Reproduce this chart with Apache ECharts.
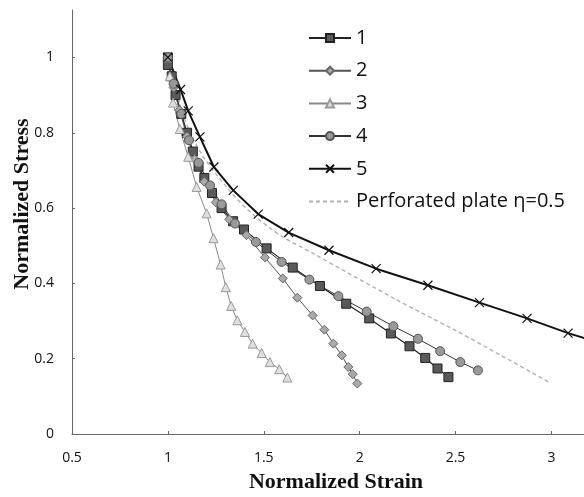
<!DOCTYPE html>
<html>
<head>
<meta charset="utf-8">
<script src="https://cdn.jsdelivr.net/npm/echarts@6/dist/echarts.min.js"></script>
<style>html,body{margin:0;padding:0;background:#fff;}#c{width:584px;height:497px;}</style>
</head>
<body>
<div id="c"></div>
<script>
var seriesNames = ['1', '2', '3', '4', '5', 'Perforated plate η=0.5'];
var xTitle = 'Normalized Strain';
var yTitle = 'Normalized Stress';

var s1x = [1.00,1.00,1.02,1.04,1.07,1.10,1.13,1.16,1.19,1.23,1.28,1.34,1.397,1.515,1.651,1.793,1.93,2.05,2.163,2.26,2.342,2.406,2.463];
var s1y = [1.00,0.98,0.95,0.90,0.85,0.80,0.75,0.71,0.68,0.64,0.60,0.565,0.543,0.493,0.442,0.393,0.346,0.307,0.267,0.233,0.202,0.174,0.151];

var s2x = [1.00,1.03,1.06,1.10,1.14,1.19,1.25,1.32,1.41,1.506,1.599,1.675,1.755,1.816,1.863,1.907,1.941,1.964,1.988];
var s2y = [1.00,0.92,0.86,0.79,0.73,0.67,0.615,0.57,0.528,0.469,0.413,0.362,0.315,0.277,0.24,0.209,0.178,0.159,0.134];

var s3x = [1.00,1.01,1.027,1.062,1.106,1.15,1.202,1.238,1.275,1.302,1.33,1.362,1.402,1.442,1.489,1.532,1.581,1.623];
var s3y = [1.00,0.95,0.88,0.81,0.736,0.656,0.586,0.52,0.45,0.39,0.34,0.302,0.271,0.24,0.215,0.191,0.172,0.15];

var s4x = [1.00,1.03,1.07,1.11,1.16,1.22,1.28,1.35,1.459,1.593,1.738,1.889,2.037,2.176,2.304,2.42,2.525,2.617];
var s4y = [1.00,0.93,0.85,0.78,0.72,0.66,0.61,0.559,0.51,0.457,0.41,0.366,0.325,0.286,0.253,0.22,0.191,0.169];

var s5x = [1.00,1.066,1.106,1.167,1.24,1.341,1.471,1.63,1.84,2.086,2.356,2.625,2.873,3.087,3.30];
var s5y = [1.00,0.915,0.858,0.789,0.709,0.647,0.584,0.535,0.488,0.439,0.395,0.349,0.307,0.268,0.235];

var ppx = [1.00,1.05,1.10,1.18,1.306,1.428,1.585,1.759,2.194,2.5,2.75,2.996];
var ppy = [1.00,0.90,0.82,0.74,0.656,0.59,0.528,0.479,0.356,0.275,0.205,0.135];

function zip(xs, ys) { return xs.map(function (x, i) { return [x, ys[i]]; }); }

var crossPath = 'path://M0,0L10,10M10,0L0,10';

var chart = echarts.init(document.getElementById('c'), null, { renderer: 'canvas' });
chart.setOption({
  animation: false,
  backgroundColor: '#fff',
  grid: { left: 72, top: 10, right: 0, bottom: 63, containLabel: false, outerBoundsMode: 'none' },
  legend: {
    orient: 'vertical',
    left: 308,
    top: 28,
    padding: 0,
    itemWidth: 42,
    itemHeight: 10,
    itemGap: 12.7,
    textStyle: { fontFamily: 'Open Sans', fontSize: 20, color: '#111', lineHeight: 20 },
    data: seriesNames
  },
  graphic: [
    {
      type: 'text', x: 336, y: 482,
      style: { text: xTitle, font: 'bold 22px "Liberation Serif"', fill: '#111', textAlign: 'center', textVerticalAlign: 'middle' }
    },
    {
      type: 'text', x: 22, y: 204, rotation: Math.PI / 2,
      style: { text: yTitle, font: 'bold 22px "Liberation Serif"', fill: '#111', textAlign: 'center', textVerticalAlign: 'middle' }
    }
  ],
  xAxis: {
    type: 'value',
    min: 0.5, max: 3.17, interval: 0.5,
    axisLine: { lineStyle: { color: '#666', width: 1 } },
    axisTick: { inside: true, length: 3, lineStyle: { color: '#666' } },
    axisLabel: { showMaxLabel: false, margin: 17, fontFamily: 'Open Sans', fontSize: 14, color: '#111' },
    splitLine: { show: false }
  },
  yAxis: {
    type: 'value',
    min: 0, max: 1.126, interval: 0.2,
    axisLine: { show: true, lineStyle: { color: '#666', width: 1 } },
    axisTick: { show: true, inside: true, length: 3, lineStyle: { color: '#666' } },
    axisLabel: { showMaxLabel: false, margin: 18, fontFamily: 'Open Sans', fontSize: 14, color: '#111' },
    splitLine: { show: false }
  },
  series: [
    {
      name: seriesNames[0], type: 'line', data: zip(s1x, s1y),
      symbol: 'rect', symbolSize: 9,
      lineStyle: { color: '#222', width: 1.2 },
      itemStyle: { color: '#5a5a5a', borderColor: '#222', borderWidth: 1 }
    },
    {
      name: seriesNames[1], type: 'line', data: zip(s2x, s2y),
      symbol: 'diamond', symbolSize: 9,
      lineStyle: { color: '#555', width: 1 },
      itemStyle: { color: '#aaa', borderColor: '#666', borderWidth: 1 }
    },
    {
      name: seriesNames[2], type: 'line', data: zip(s3x, s3y),
      symbol: 'triangle', symbolSize: 9,
      lineStyle: { color: '#888', width: 1 },
      itemStyle: { color: '#e0e0e0', borderColor: '#999', borderWidth: 1 }
    },
    {
      name: seriesNames[3], type: 'line', data: zip(s4x, s4y),
      symbol: 'circle', symbolSize: 9,
      lineStyle: { color: '#333', width: 1 },
      itemStyle: { color: '#999', borderColor: '#555', borderWidth: 1 }
    },
    {
      name: seriesNames[4], type: 'line', data: zip(s5x, s5y),
      symbol: crossPath, symbolSize: 9,
      lineStyle: { color: '#111', width: 2 },
      itemStyle: { color: 'rgba(0,0,0,0)', borderColor: '#111', borderWidth: 1.2 }
    },
    {
      name: seriesNames[5], type: 'line', data: zip(ppx, ppy),
      symbol: 'none', smooth: 0.3,
      lineStyle: { color: '#b0b0b0', width: 1.4, type: [4, 3] },
      itemStyle: { color: 'rgba(0,0,0,0)' }
    }
  ]
});
</script>
</body>
</html>
